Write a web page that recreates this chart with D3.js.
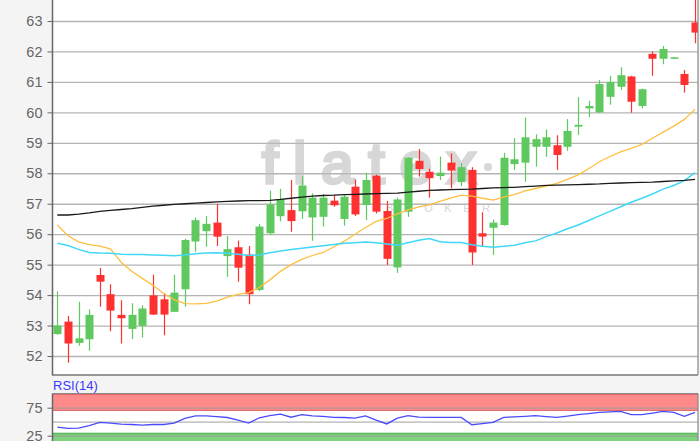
<!DOCTYPE html>
<html><head><meta charset="utf-8">
<script src="https://cdn.jsdelivr.net/npm/d3@7/dist/d3.min.js"></script>
<style>html,body{margin:0;padding:0;background:#f4f4f4;}svg{display:block;}</style>
</head><body>
<svg id="c" width="700" height="441"></svg>
<script>
// ---- data ----
const candleIndex = d3.range(61);
const opens  = [52.72,53.13,52.43,52.55,54.66,54.03,53.35,52.89,52.99,53.99,53.86,53.45,54.19,55.76,56.10,56.38,55.28,55.57,55.33,54.17,56.03,56.59,56.79,56.75,56.55,56.57,57.10,56.50,57.56,56.96,57.92,56.76,54.91,56.74,58.41,58.05,57.91,58.35,57.71,58.11,56.03,56.21,56.30,58.30,58.35,58.87,58.87,58.92,58.87,59.53,60.13,60.00,60.51,60.84,61.18,60.21,61.92,61.76,61.76,61.26,62.95];
const highs  = [54.13,53.31,53.78,53.53,54.89,54.36,53.83,53.73,53.67,54.67,54.06,54.67,55.85,56.55,56.60,57.00,55.94,55.79,55.61,56.33,57.43,57.49,57.78,57.90,57.34,57.32,57.28,57.30,57.80,58.02,57.95,57.09,57.20,58.52,58.80,58.15,58.55,58.65,58.33,58.20,56.72,56.48,58.67,59.15,59.83,59.28,59.44,59.25,59.78,60.50,60.38,61.06,61.20,61.48,61.20,60.78,62.00,62.18,61.81,61.39,64.00];
const lows   = [52.70,51.78,52.34,52.17,53.62,52.81,52.41,52.56,52.61,53.35,52.68,53.45,53.62,55.42,55.59,55.61,54.60,54.44,53.70,54.13,55.97,56.42,56.08,56.50,55.78,56.25,56.90,56.28,56.60,56.47,56.68,54.99,54.73,56.57,57.89,57.20,57.78,57.50,57.58,54.99,55.60,55.32,56.28,58.11,57.72,58.22,58.54,58.11,58.74,59.26,59.84,59.98,60.25,60.74,59.99,60.13,61.20,61.58,61.76,60.65,62.27];
const closes = [53.00,52.41,52.58,53.35,54.44,53.49,53.24,53.35,53.56,53.36,53.36,54.08,55.81,56.46,56.34,55.92,55.51,54.90,54.03,56.25,56.97,57.15,56.43,57.60,57.20,57.20,56.95,57.23,56.65,57.78,56.74,55.19,57.14,58.51,58.14,57.84,58.02,58.09,58.20,55.40,55.92,56.38,58.51,58.46,59.18,59.12,59.18,58.60,59.39,59.59,60.21,60.93,61.00,61.22,60.35,60.76,61.76,62.08,61.81,60.90,62.62];
const maBlack  = [56.63,56.63,56.66,56.70,56.75,56.78,56.81,56.84,56.88,56.92,56.95,56.98,57.00,57.02,57.04,57.06,57.08,57.09,57.10,57.10,57.11,57.14,57.18,57.22,57.25,57.27,57.28,57.30,57.31,57.32,57.33,57.34,57.35,57.38,57.41,57.44,57.45,57.46,57.47,57.48,57.50,57.52,57.53,57.54,57.56,57.58,57.60,57.61,57.62,57.63,57.64,57.65,57.67,57.68,57.69,57.70,57.71,57.73,57.75,57.77,57.80];
const maCyan   = [55.70,55.63,55.50,55.40,55.38,55.37,55.34,55.33,55.33,55.32,55.31,55.29,55.32,55.36,55.38,55.39,55.37,55.34,55.30,55.32,55.39,55.45,55.50,55.54,55.58,55.62,55.66,55.70,55.72,55.74,55.72,55.68,55.64,55.72,55.80,55.86,55.75,55.73,55.73,55.65,55.60,55.57,55.60,55.64,55.72,55.78,55.92,56.04,56.18,56.30,56.45,56.60,56.75,56.90,57.05,57.18,57.32,57.48,57.60,57.76,58.02];
const maOrange = [56.30,55.95,55.75,55.66,55.61,55.52,55.08,54.78,54.55,54.32,54.05,53.85,53.72,53.71,53.73,53.80,53.93,54.02,54.08,54.25,54.50,54.78,55.00,55.17,55.30,55.40,55.58,55.77,56.00,56.22,56.42,56.52,56.67,56.80,56.90,56.96,57.08,57.18,57.28,57.25,57.18,57.12,57.22,57.30,57.42,57.50,57.58,57.67,57.80,57.95,58.15,58.38,58.55,58.70,58.82,58.95,59.15,59.35,59.55,59.77,60.10];
const rsi = [40.5,38.0,38.5,43.0,48.8,47.5,45.8,45.0,44.0,45.0,45.0,47.5,56.0,60.5,60.5,59.0,57.5,53.0,47.5,57.0,61.0,63.5,58.0,62.5,60.5,59.5,57.7,57.5,56.5,60.5,53.0,46.0,56.5,60.7,58.0,57.7,57.7,57.7,57.7,44.6,46.5,48.8,57.7,58.5,59.5,60.7,59.0,57.7,60.0,62.5,64.5,66.6,67.5,68.4,62.5,62.5,65.5,68.4,66.6,59.5,66.6];
const priceTicks = [52,53,54,55,56,57,58,59,60,61,62,63];
const rsiGrid = [25,50,75];
const rsiTickLabels = [25,75];
const rsiBands = [{from:70,to:100,fill:"#ff8a8a",line:"#e46b6b"},{from:0,to:30,fill:"#7dd47d",line:"#5cb85c"}];
const rsiTitle = "RSI(14)";

// ---- layout ----
const W = 700, H = 441;
const P = {left:52.5, right:698, top:-5, bottom:375};
const R = {top:393.5, bottom:460};
const svg = d3.select("#c");
svg.append("rect").attr("width",W).attr("height",H).attr("fill","#f4f4f4");

const x = d3.scaleLinear().domain([0,60]).range([57.3,695]);
const y = d3.scaleLinear().domain([52,63]).range([356,21]);
const yr = d3.scaleLinear().domain([0,100]).range([449.7,393.7]);

const defs = svg.append("defs");
defs.append("clipPath").attr("id","cp").append("rect")
  .attr("x",P.left).attr("y",P.top).attr("width",P.right-P.left).attr("height",P.bottom-P.top);
defs.append("clipPath").attr("id","cr").append("rect")
  .attr("x",P.left).attr("y",R.top).attr("width",P.right-P.left).attr("height",R.bottom-R.top);

// main plot background
svg.append("rect").attr("x",P.left).attr("y",P.top).attr("width",P.right-P.left).attr("height",P.bottom-P.top).attr("fill","#fff");

// gridlines
const grid = svg.append("g").attr("transform",`translate(${P.left},0)`)
  .call(d3.axisLeft(y).tickValues(priceTicks).tickSize(-(P.right-P.left)).tickFormat(""));
grid.select(".domain").remove();
grid.selectAll("line").attr("stroke","#b4b4b4").attr("stroke-width",1.3);

// watermark
const wm = svg.append("g").attr("clip-path","url(#cp)").attr("opacity",0.6);
wm.append("text").attr("x",262).attr("y",183).attr("textLength",214).attr("lengthAdjust","spacing")
  .attr("font-family","Liberation Sans, Arial, sans-serif").attr("font-size",58)
  .attr("fill","#bdbdbd").attr("stroke","#bdbdbd").attr("stroke-width",3.5).text("flatex");
wm.append("circle").attr("cx",488).attr("cy",167).attr("r",4).attr("fill","#bdbdbd");
wm.append("text").attr("x",386).attr("y",212).attr("font-family","Liberation Sans, Arial, sans-serif")
  .attr("font-size",11).attr("letter-spacing",11.5).attr("fill","#bdbdbd").text("BROKER");

const plotG = svg.append("g").attr("clip-path","url(#cp)");

// candles
const data = candleIndex.map(i => ({i, o:opens[i], h:highs[i], l:lows[i], c:closes[i]}));
const up = "#5fc95f", dn = "#ff3030";
const cw = 8;
plotG.selectAll("line.wick").data(data).join("line").attr("class","wick")
  .attr("x1",d=>Math.round(x(d.i))+0.5).attr("x2",d=>Math.round(x(d.i))+0.5)
  .attr("y1",d=>y(d.h)).attr("y2",d=>y(d.l))
  .attr("stroke",d=>d.c>=d.o?up:dn).attr("stroke-width",1.2);
plotG.selectAll("rect.body").data(data).join("rect").attr("class","body")
  .attr("x",d=>Math.round(x(d.i))+0.5-cw/2).attr("width",cw)
  .attr("y",d=>y(Math.max(d.o,d.c)))
  .attr("height",d=>Math.max(1.5,Math.abs(y(d.o)-y(d.c))))
  .attr("fill",d=>d.c>=d.o?up:dn);

// moving averages
const lineGen = d3.line().x((d,i)=>x(i)).y(d=>y(d)).curve(d3.curveLinear);
[[maOrange,"#ffbf40",1.3],[maCyan,"#40d8f8",1.5],[maBlack,"#1a1a1a",1.3]].forEach(([arr,col,w])=>{
  plotG.append("path").datum(arr).attr("d",lineGen).attr("fill","none").attr("stroke",col).attr("stroke-width",w);
});

// main axes
const yAxis = svg.append("g").attr("transform",`translate(${P.left},0)`)
  .call(d3.axisLeft(y).tickValues(priceTicks).tickSize(5).tickPadding(5).tickFormat(d3.format("d")));
yAxis.select(".domain").remove();
yAxis.selectAll("line").attr("stroke","#666");
yAxis.selectAll("text").attr("font-family","Liberation Sans, Arial, sans-serif").attr("font-size",14.5).attr("fill","#666");
svg.append("line").attr("x1",P.left).attr("x2",P.left).attr("y1",P.top).attr("y2",P.bottom+0.5).attr("stroke","#666").attr("stroke-width",1.5);
svg.append("line").attr("x1",P.left).attr("x2",P.right).attr("y1",P.bottom).attr("y2",P.bottom).attr("stroke","#777").attr("stroke-width",1.5);
svg.append("line").attr("x1",P.right).attr("x2",P.right).attr("y1",P.top).attr("y2",P.bottom).attr("stroke","#888").attr("stroke-width",1.2);

// ---- RSI panel ----
svg.append("text").attr("x",53).attr("y",390).attr("font-family","Liberation Sans, Arial, sans-serif")
  .attr("font-size",13).attr("fill","#3a3aff").text(rsiTitle);
svg.append("rect").attr("x",P.left).attr("y",R.top).attr("width",P.right-P.left).attr("height",R.bottom-R.top).attr("fill","#fff");
const rG = svg.append("g").attr("clip-path","url(#cr)");
rsiBands.forEach(b=>{
  rG.append("rect").attr("x",P.left).attr("width",P.right-P.left)
    .attr("y",yr(b.to)).attr("height",yr(b.from)-yr(b.to)).attr("fill",b.fill);
  rG.append("line").attr("x1",P.left).attr("x2",P.right).attr("y1",yr(b.to)+0.5).attr("y2",yr(b.to)+0.5).attr("stroke",b.line).attr("stroke-width",1.5);
  rG.append("line").attr("x1",P.left).attr("x2",P.right).attr("y1",yr(b.from)).attr("y2",yr(b.from)).attr("stroke",b.line).attr("stroke-width",1);
});
const rgrid = rG.append("g").attr("transform",`translate(${P.left},0)`)
  .call(d3.axisLeft(yr).tickValues(rsiGrid).tickSize(-(P.right-P.left)).tickFormat(""));
rgrid.select(".domain").remove();
rgrid.selectAll("line").attr("stroke","#999").attr("stroke-opacity",0.75).attr("stroke-width",1.3);
rG.append("path").datum(rsi).attr("d",d3.line().x((d,i)=>x(i)).y(d=>yr(d)))
  .attr("fill","none").attr("stroke","#4a4aff").attr("stroke-width",1.3);
const rAxis = svg.append("g").attr("transform",`translate(${P.left},0)`)
  .call(d3.axisLeft(yr).tickValues(rsiTickLabels).tickSize(5).tickPadding(5).tickFormat(d3.format("d")));
rAxis.select(".domain").remove();
rAxis.selectAll("line").attr("stroke","#666");
rAxis.selectAll("text").attr("font-family","Liberation Sans, Arial, sans-serif").attr("font-size",14.5).attr("fill","#666");
svg.append("line").attr("x1",P.left).attr("x2",P.left).attr("y1",R.top).attr("y2",H).attr("stroke","#666").attr("stroke-width",1.5);
svg.append("line").attr("x1",P.left).attr("x2",P.right).attr("y1",R.top).attr("y2",R.top).attr("stroke","#888").attr("stroke-width",1);
svg.append("line").attr("x1",P.right).attr("x2",P.right).attr("y1",R.top).attr("y2",H).attr("stroke","#888").attr("stroke-width",1.2);
</script>
</body></html>
